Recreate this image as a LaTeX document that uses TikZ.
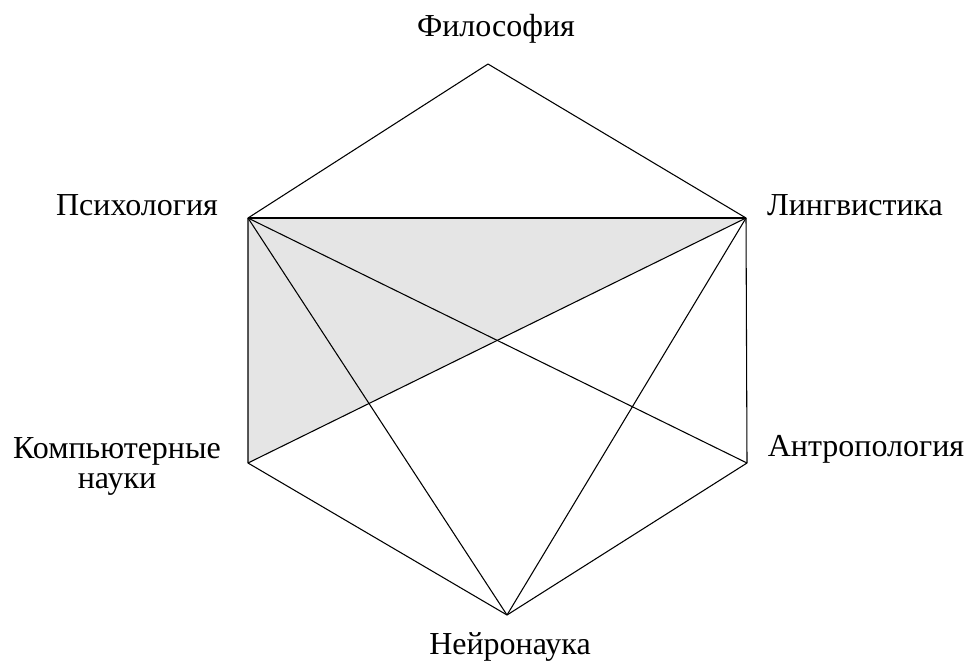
\documentclass[tikz,border=0pt]{standalone}
\usepackage{fontspec}
\setmainfont{Liberation Serif}
\newfontfamily\lblfont{Liberation Serif}
\begin{document}
\begin{tikzpicture}[x=0.75pt,y=-0.75pt,
  edge/.style={draw=black,line width=0.8pt,line join=round},
  lbl/.style={font=\lblfont\fontsize{24}{22.5}\selectfont,inner sep=0pt,anchor=base,align=center}]
\useasboundingbox (0,0) rectangle (970,662);
\coordinate (phi) at (488,64);
\coordinate (psy) at (248,218);
\coordinate (lin) at (746,218);
\coordinate (cs) at (248,463);
\coordinate (ant) at (747,463);
\coordinate (neu) at (507,615);
\fill[gray!20] (psy) -- (lin) -- (cs) -- cycle;
\draw[edge] (phi) -- (psy) -- (cs) -- (neu) -- (ant) -- (lin) -- cycle;
\draw[edge] (psy) -- (lin);
\draw[edge] (psy) -- (neu);
\draw[edge] (psy) -- (ant);
\draw[edge] (lin) -- (cs);
\draw[edge] (lin) -- (neu);
\node[lbl] (tphi) at (496,36) {Философия};
\node[lbl] (tpsy) at (137,215) {Психология};
\node[lbl] (tlin) at (855,215) {Лингвистика};
\node[lbl] (tcs) at (117,488) {Компьютерные\\науки};
\node[lbl] (tant) at (866,456) {Антропология};
\node[lbl] (tneu) at (510,654) {Нейронаука};
\end{tikzpicture}
\end{document}
